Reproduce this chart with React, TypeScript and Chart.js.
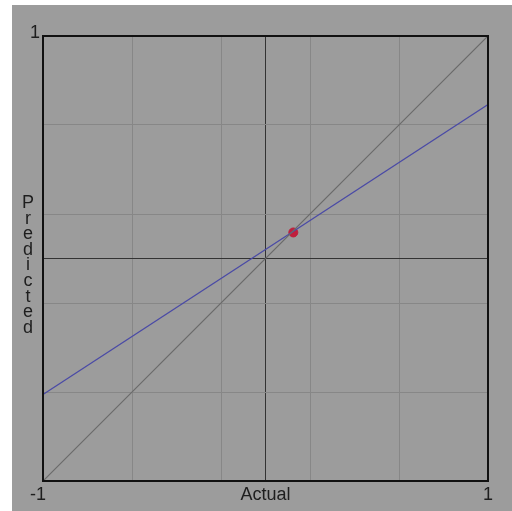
import React, { useEffect, useRef } from "react";
import { Chart, registerables } from "chart.js";

Chart.register(...registerables);

const axisEnds = [-1, 1];
const identityLine = [-1, 1];
const fitLine = [-0.611, 0.692];
const pointX = [0.125];
const pointY = [0.117];
const gridTicks = [-1, -0.6, -0.2, 0, 0.2, 0.6, 1];
const xTickLabels = ["-1", "1"];
const yTickLabels = ["1"];
const xTitle = "Actual";
const yTitle = "Predicted";

const FONT = '18px "Liberation Sans", Arial, sans-serif';

const bgPlugin = {
  id: "bgPlugin",
  beforeDraw(chart: any) {
    const ctx = chart.ctx;
    ctx.save();
    ctx.fillStyle = "#ffffff";
    ctx.fillRect(0, 0, chart.width, chart.height);
    ctx.fillStyle = "#9c9c9c";
    ctx.fillRect(12, 5, chart.width - 12, chart.height - 5);
    ctx.restore();
  },
  afterDraw(chart: any) {
    const ctx = chart.ctx;
    const xs = chart.scales.x;
    const ys = chart.scales.y;
    const a = chart.chartArea;
    ctx.save();
    ctx.strokeStyle = "#111111";
    ctx.lineWidth = 2;
    ctx.strokeRect(a.left, a.top, a.right - a.left, a.bottom - a.top);
    ctx.font = FONT;
    ctx.fillStyle = "#1e1e1e";
    ctx.textAlign = "center";
    ctx.textBaseline = "middle";
    ctx.fillText(xTickLabels[0], xs.getPixelForValue(-1) - 5, a.bottom + 14);
    ctx.fillText(xTickLabels[1], xs.getPixelForValue(1), a.bottom + 14);
    ctx.fillText(yTickLabels[0], a.left - 8, ys.getPixelForValue(1) - 3);
    ctx.fillText(xTitle, (a.left + a.right) / 2, a.bottom + 14);
    const letters = yTitle.split("");
    const step = 15.6;
    const cy = (a.top + a.bottom) / 2 + 7;
    const start = cy - ((letters.length - 1) * step) / 2;
    letters.forEach((ch, i) => {
      ctx.fillText(ch, 28, start + i * step);
    });
    ctx.restore();
  },
};

export default function App() {
  const ref = useRef<HTMLCanvasElement>(null);
  useEffect(() => {
    if (!ref.current) return;
    const gridColor = (c: any) =>
      c.tick && c.tick.value === 0 ? "#333333" : "#878787";
    const chart = new Chart(ref.current, {
      type: "scatter",
      data: {
        datasets: [
          {
            type: "line",
            data: axisEnds.map((x, i) => ({ x, y: identityLine[i] })),
            borderColor: "#6a6a6a",
            borderWidth: 1.2,
            pointRadius: 0,
            showLine: true,
          } as any,
          {
            type: "line",
            data: axisEnds.map((x, i) => ({ x, y: fitLine[i] })),
            borderColor: "#4a4aa6",
            borderWidth: 1.2,
            pointRadius: 0,
            showLine: true,
          } as any,
          {
            data: pointX.map((x, i) => ({ x, y: pointY[i] })),
            backgroundColor: "#c01e3c",
            borderColor: "#c01e3c",
            pointRadius: 4.5,
          },
        ],
      },
      options: {
        responsive: false,
        animation: false,
        layout: { padding: { left: 43, top: 36, right: 24, bottom: 30 } },
        plugins: { legend: { display: false }, tooltip: { enabled: false } },
        scales: {
          x: {
            type: "linear",
            min: -1,
            max: 1,
            afterBuildTicks: (s: any) => {
              s.ticks = gridTicks.map((v) => ({ value: v }));
            },
            ticks: { display: false },
            grid: { color: gridColor, lineWidth: 1, drawTicks: false, tickLength: 0 },
            border: { color: "#111111", width: 2 },
          },
          y: {
            type: "linear",
            min: -1,
            max: 1,
            afterBuildTicks: (s: any) => {
              s.ticks = gridTicks.map((v) => ({ value: v }));
            },
            ticks: { display: false },
            grid: { color: gridColor, lineWidth: 1, drawTicks: false, tickLength: 0 },
            border: { color: "#111111", width: 2 },
          },
        },
      },
      plugins: [bgPlugin],
    });
    return () => chart.destroy();
  }, []);
  return (
    <div style={{ position: "fixed", left: 0, top: 0, width: 512, height: 511 }}>
      <canvas ref={ref} width={512} height={511} style={{ display: "block" }} />
    </div>
  );
}
